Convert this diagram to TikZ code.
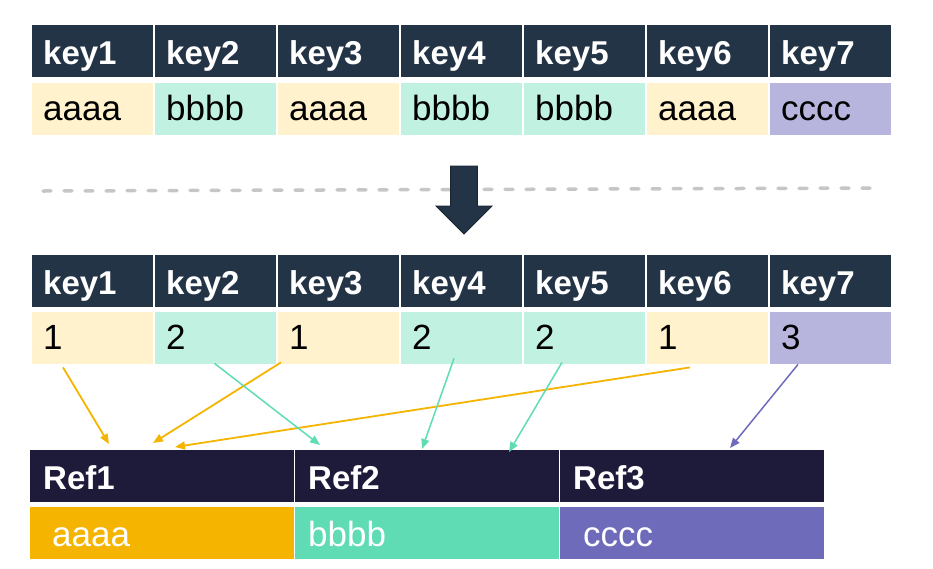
\documentclass[tikz,border=0pt]{standalone}
\usepackage{fontspec}
\setmainfont{Liberation Sans}
\usetikzlibrary{arrows.meta,calc,positioning}
\definecolor{hdr}{RGB}{36,52,71}
\definecolor{refhdr}{RGB}{30,26,58}
\definecolor{yl}{RGB}{255,242,204}
\definecolor{tl}{RGB}{192,241,225}
\definecolor{pl}{RGB}{183,181,221}
\definecolor{yel}{RGB}{244,180,0}
\definecolor{tea}{RGB}{95,220,179}
\definecolor{pur}{RGB}{111,107,187}
\tikzset{cell/.style={anchor=north west, minimum height=52pt, inner ysep=0pt, inner xsep=11pt, text width=99pt, align=left},
  hd/.style={cell, fill=hdr, text=white, font=\bfseries\fontsize{33}{38}\selectfont, text height=30pt, text depth=3pt},
  val/.style={cell, font=\fontsize{35}{40}\selectfont, text height=25pt, text depth=3pt},
  refhd/.style={cell, fill=refhdr, text=white, inner xsep=13pt, text width=238pt, font=\bfseries\fontsize{33}{38}\selectfont, text height=30pt, text depth=3pt},
  refval/.style={cell, text=white, font=\fontsize{35}{40}\selectfont, text height=29pt, text depth=3pt},
  lnk/.style={-{Triangle[length=10pt, width=8pt]}, line width=1.5pt}}

\begin{document}
\begin{tikzpicture}[x=1pt, y=-1pt]
  \useasboundingbox (0,0) rectangle (933,568);
  % source table
  \foreach \v/\c [count=\i] in {aaaa/yl, bbbb/tl, aaaa/yl, bbbb/tl, bbbb/tl, aaaa/yl, cccc/pl} {
    \node[hd] (ka\i) at ({32+123*(\i-1)},25) {key\i};
    \node[val, fill=\c] (va\i) at ({32+123*(\i-1)},83) {\v};
  }
  \draw[gray!45, line width=3.5pt, line cap=round, dash pattern=on 8pt off 13pt] (43,191) -- (878,188);
  \filldraw[fill=hdr, draw=hdr!70!black, line width=0.8pt] (450.5,166) -- (477.5,166) -- (477.5,206)
    -- (492,206) -- (464,234) -- (436,206) -- (450.5,206) -- cycle;
  % encoded table
  \foreach \v/\c [count=\i] in {1/yl, 2/tl, 1/yl, 2/tl, 2/tl, 1/yl, 3/pl} {
    \node[hd] (kb\i) at ({32+123*(\i-1)},255) {key\i};
    \node[val, fill=\c] (vb\i) at ({32+123*(\i-1)},312) {\v};
  }
  % dictionary
  \foreach \v/\c/\ind/\tw [count=\i] in {aaaa/yel/22/220, bbbb/tea/13/238, cccc/pur/23/218} {
    \node[refhd] (ref\i) at ({30+265*(\i-1)},450) {Ref\i};
    \node[refval, fill=\c, inner xsep=\ind pt, text width=\tw pt] (dict\i) at ({30+265*(\i-1)},507) {\v};
  }
  \draw[lnk, yel, line width=1.8pt] ($(vb1.south west)+(31,3)$) -- ($(ref1.north west)+(79,-6)$);
  \draw[lnk, yel, line width=1.8pt] ($(vb3.south west)+(3,-2)$) -- ($(ref1.north west)+(123,-7)$);
  \draw[lnk, yel, line width=1.8pt] ($(vb6.south west)+(43,3)$) -- ($(ref1.north west)+(145,-3)$);
  \draw[lnk, tea] ($(vb2.south west)+(59.5,-1)$) -- ($(ref2.north west)+(25,-5)$);
  \draw[lnk, tea] ($(vb4.south west)+(53,-6)$) -- ($(ref2.north west)+(127,-1)$);
  \draw[lnk, tea] ($(vb5.south west)+(38,-2)$) -- ($(ref2.north west)+(214,2)$);
  \draw[lnk, pur] ($(vb7.south west)+(28,0)$) -- ($(ref3.north west)+(170,-2)$);
\end{tikzpicture}
\end{document}
